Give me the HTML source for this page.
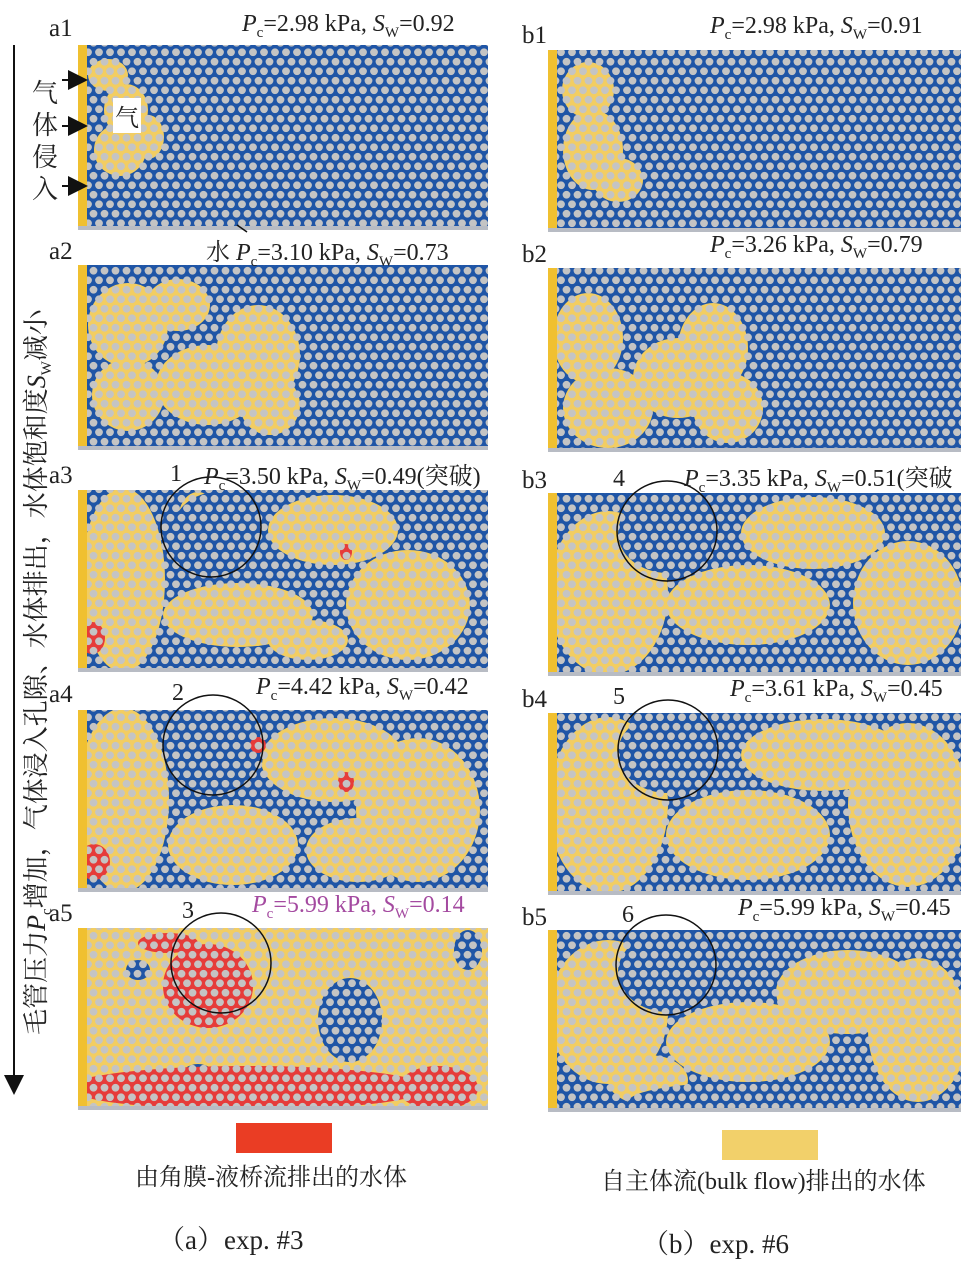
<!DOCTYPE html>
<html><head><meta charset="utf-8">
<style>
body{margin:0;background:#fff;width:961px;height:1271px;overflow:hidden;position:relative;font-family:"Liberation Serif","Noto Serif CJK SC",serif;}
.t{position:absolute;font-size:24px;color:#222;white-space:nowrap;}
.cj{font-family:"Liberation Serif","Noto Serif CJK SC","Noto Sans CJK SC",serif;}
i{font-style:italic}
sub{font-size:15px}
</style></head><body>
<svg id="s" width="961" height="1271" style="position:absolute;left:0;top:0">
<defs>
<pattern id="dots" width="11" height="19" patternUnits="userSpaceOnUse">
<circle cx="5.5" cy="4.75" r="3.9" fill="#c4c4c4"/>
<circle cx="0" cy="14.25" r="3.9" fill="#c4c4c4"/>
<circle cx="11" cy="14.25" r="3.9" fill="#c4c4c4"/>
</pattern>
<marker id="ah" markerWidth="10" markerHeight="10" refX="5" refY="5" orient="auto"><path d="M0,0 L10,5 L0,10 z" fill="#111"/></marker>
</defs>
</svg>

<div class="t" style="left:49px;top:15px;font-size:25px">a1</div>
<div class="t" style="left:49px;top:238px;font-size:25px">a2</div>
<div class="t" style="left:49px;top:462px;font-size:25px">a3</div>
<div class="t" style="left:49px;top:681px;font-size:25px">a4</div>
<div class="t" style="left:49px;top:900px;font-size:25px">a5</div>
<div class="t" style="left:522px;top:22px;font-size:25px">b1</div>
<div class="t" style="left:522px;top:241px;font-size:25px">b2</div>
<div class="t" style="left:522px;top:467px;font-size:25px">b3</div>
<div class="t" style="left:522px;top:686px;font-size:25px">b4</div>
<div class="t" style="left:522px;top:904px;font-size:25px">b5</div>

<div class="t" style="left:242px;top:11px"><i>P</i><sub>c</sub>=2.98 kPa, <i>S</i><sub>W</sub>=0.92</div>
<div class="t cj" style="left:206px;top:232px">水 <i>P</i><sub>c</sub>=3.10 kPa, <i>S</i><sub>W</sub>=0.73</div>
<div class="t cj" style="left:204px;top:456px"><i>P</i><sub>c</sub>=3.50 kPa, <i>S</i><sub>W</sub>=0.49(突破)</div>
<div class="t" style="left:256px;top:674px"><i>P</i><sub>c</sub>=4.42 kPa, <i>S</i><sub>W</sub>=0.42</div>
<div class="t" style="left:252px;top:892px;color:#a44aa0"><i>P</i><sub>c</sub>=5.99 kPa, <i>S</i><sub>W</sub>=0.14</div>
<div class="t" style="left:710px;top:13px"><i>P</i><sub>c</sub>=2.98 kPa, <i>S</i><sub>W</sub>=0.91</div>
<div class="t" style="left:710px;top:232px"><i>P</i><sub>c</sub>=3.26 kPa, <i>S</i><sub>W</sub>=0.79</div>
<div class="t cj" style="left:684px;top:458px"><i>P</i><sub>c</sub>=3.35 kPa, <i>S</i><sub>W</sub>=0.51(突破</div>
<div class="t" style="left:730px;top:676px"><i>P</i><sub>c</sub>=3.61 kPa, <i>S</i><sub>W</sub>=0.45</div>
<div class="t" style="left:738px;top:895px"><i>P</i><sub>c</sub>=5.99 kPa, <i>S</i><sub>W</sub>=0.45</div>

<div class="t" style="left:170px;top:461px">1</div>
<div class="t" style="left:172px;top:680px">2</div>
<div class="t" style="left:182px;top:898px">3</div>
<div class="t" style="left:613px;top:466px">4</div>
<div class="t" style="left:613px;top:684px">5</div>
<div class="t" style="left:622px;top:902px">6</div>

<div class="t cj" style="left:113px;top:98px;background:#fff;padding:0 2px">气</div>
<div class="t cj" style="left:32px;top:78px;width:28px;line-height:32px;white-space:normal;font-size:26px">气体侵入</div>
<div class="t cj" style="left:36px;top:672px;font-size:26px;transform:translate(-50%,-50%) rotate(-90deg);">毛管压力<i>P</i><sub>c</sub>增加，气体浸入孔隙、水体排出，水体饱和度<i>S</i><sub>W</sub>减小</div>

<div style="position:absolute;left:236px;top:1123px;width:96px;height:30px;background:#ea3d24"></div>
<div class="t cj" style="left:135px;top:1157px">由角膜-液桥流排出的水体</div>
<div style="position:absolute;left:722px;top:1130px;width:96px;height:30px;background:#f2d06a"></div>
<div class="t cj" style="left:601px;top:1161px">自主体流(bulk flow)排出的水体</div>
<div class="t cj" style="left:158px;top:1218px;font-size:27px">（a）exp. #3</div>
<div class="t cj" style="left:642px;top:1222px;font-size:27px">（b）exp. #6</div>

<script>
const NS='http://www.w3.org/2000/svg';
const svg=document.getElementById('s');
const B='#1f55a6',Y='#f2cd62',R='#e63c3a';
const panelNames=['a1','a2','a3','a4','a5','b1','b2','b3','b4','b5'];
const panelX=[78,78,78,78,78,548,548,548,548,548];
const panelY=[45,265,490,710,928,50,268,493,713,930];
const panelW=[410,410,410,410,410,413,413,413,413,413];
const panelH=[185,185,182,182,182,182,184,183,182,182];
const panelBase=[B,B,B,B,Y,B,B,B,B,B];
const blobs=[
 [[Y,30,30,20,16],[Y,48,65,22,26],[Y,42,105,26,26],[Y,70,92,16,22]],
 [[Y,50,60,40,42],[Y,50,130,36,36],[Y,130,120,52,40],[Y,180,90,42,50],[Y,192,140,30,30],[Y,100,40,32,26]],
 [[Y,45,90,42,92],[Y,160,125,75,32],[Y,255,40,65,35],[Y,330,115,62,55],[Y,230,150,40,20],[Y,120,30,20,28],[B,140,40,45,38],[R,14,148,13,16],[R,268,62,6,8]],
 [[Y,45,90,46,92],[Y,155,135,65,40],[Y,255,50,72,42],[Y,340,100,62,72],[Y,280,140,52,32],[B,140,45,45,40],[R,16,152,16,18],[R,268,72,8,10],[R,180,35,8,8]],
 [[B,272,92,32,42],[B,60,42,12,10],[B,390,22,14,20],[B,120,150,18,14],[R,130,58,45,42],[R,170,160,180,22],[R,360,160,40,22],[R,90,15,30,10]],
 [[Y,40,40,26,28],[Y,45,100,30,40],[Y,70,130,25,22]],
 [[Y,40,70,35,45],[Y,60,140,45,40],[Y,130,110,45,40],[Y,165,80,35,45],[Y,180,140,35,35]],
 [[Y,60,100,60,82],[Y,200,112,82,40],[Y,265,40,72,36],[Y,360,110,55,62],[B,120,40,50,40]],
 [[Y,60,92,60,88],[Y,200,122,82,45],[Y,275,42,82,36],[Y,360,92,60,82],[B,120,40,50,40]],
 [[Y,60,82,60,72],[Y,200,112,82,40],[Y,300,62,72,42],[Y,370,100,50,72],[Y,100,150,40,25],[B,120,42,50,40],[B,200,172,120,20]]
];
const circleCx=[null,null,211,213,221,null,null,667,668,666];
const circleCy=[null,null,527,745,963,null,null,531,750,965];
function el(t,a){const e=document.createElementNS(NS,t);for(const k in a)e.setAttribute(k,a[k]);svg.appendChild(e);return e;}
panelNames.forEach((n,i)=>{
  const x=panelX[i],y=panelY[i],w=panelW[i],h=panelH[i];
  const g=document.createElementNS(NS,'g');svg.appendChild(g);
  
  
  const cp=document.createElementNS(NS,'clipPath');cp.id='cp'+i;
  const cr=document.createElementNS(NS,'rect');cr.setAttribute('x',x);cr.setAttribute('y',y);cr.setAttribute('width',w);cr.setAttribute('height',h);cp.appendChild(cr);svg.appendChild(cp);
  g.setAttribute('clip-path','url(#cp'+i+')');
  const bg=document.createElementNS(NS,'rect');
  bg.setAttribute('x',x);bg.setAttribute('y',y);bg.setAttribute('width',w);bg.setAttribute('height',h);bg.setAttribute('fill',panelBase[i]);g.appendChild(bg);
  blobs[i].forEach(b=>{
    const e=document.createElementNS(NS,'ellipse');
    e.setAttribute('cx',x+b[1]);e.setAttribute('cy',y+b[2]);e.setAttribute('rx',b[3]);e.setAttribute('ry',b[4]);e.setAttribute('fill',b[0]);
    
    
    g.appendChild(e);
  });
  const d=document.createElementNS(NS,'rect');
  d.setAttribute('x',x);d.setAttribute('y',y);d.setAttribute('width',w);d.setAttribute('height',h);d.setAttribute('fill','url(#dots)');g.appendChild(d);
  const st=document.createElementNS(NS,'rect');
  st.setAttribute('x',x);st.setAttribute('y',y);st.setAttribute('width',9);st.setAttribute('height',h);st.setAttribute('fill','#f0c030');g.appendChild(st);
  const bb=document.createElementNS(NS,'rect');
  bb.setAttribute('x',x);bb.setAttribute('y',y+h-4);bb.setAttribute('width',w);bb.setAttribute('height',4);bb.setAttribute('fill','#b8bcc4');g.appendChild(bb);
  if(circleCx[i]!==null){
    const c=el('circle',{cx:circleCx[i],cy:circleCy[i],r:50,fill:'none',stroke:'#111','stroke-width':1.5});
    
    
  }
});
const ax=el('line',{x1:14,y1:45,x2:14,y2:1085,stroke:'#111','stroke-width':2,'marker-end':'url(#ah)'});


[80,126,186].forEach(yy=>{
  const a=el('line',{x1:62,y1:yy,x2:78,y2:yy,stroke:'#111','stroke-width':2,'marker-end':'url(#ah)'});
  
  
});
const wa=el('line',{x1:247,y1:232,x2:237,y2:225,stroke:'#111','stroke-width':1.5});


</script>
</body></html>
